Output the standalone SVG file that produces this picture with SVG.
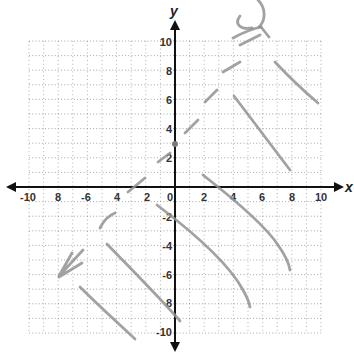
<svg xmlns="http://www.w3.org/2000/svg" width="354" height="354" viewBox="0 0 354 354">
<defs>
<style>
.gh{stroke:#222;stroke-width:0.9;stroke-dasharray:1 2.2;opacity:0.45;fill:none}
.gv{stroke:#222;stroke-width:0.9;stroke-dasharray:1 2.8;opacity:0.4;fill:none}
.ax{stroke:#111;stroke-width:2;fill:none}
.lb{font-family:"Liberation Sans",Arial,sans-serif;font-size:11px;font-weight:bold;fill:#333}
.al{font-family:"Liberation Sans",Arial,sans-serif;font-size:14px;font-style:italic;font-weight:bold;fill:#222}
.pen{stroke:#929292;stroke-width:2.8;stroke-linecap:round;stroke-linejoin:round;fill:none;opacity:0.85}
</style>
<marker id="ah" viewBox="0 0 10 10" refX="8" refY="5" markerWidth="5" markerHeight="5" orient="auto-start-reverse" markerUnits="strokeWidth">
<path d="M0,0 L10,5 L0,10 z" fill="#111"/>
</marker>
</defs>
<rect width="354" height="354" fill="#fff"/>
<g id="grid">
<path class="gh" d="M29,41.0H321M29,55.6H321M29,70.2H321M29,84.8H321M29,99.4H321M29,114.0H321M29,128.6H321M29,143.2H321M29,157.8H321M29,172.4H321M29,201.6H321M29,216.2H321M29,230.8H321M29,245.4H321M29,260.0H321M29,274.6H321M29,289.2H321M29,303.8H321M29,318.4H321M29,333.0H321"/>
<path class="gv" d="M29,41V333M43.6,41V333M58.2,41V333M72.8,41V333M87.4,41V333M102,41V333M116.6,41V333M131.2,41V333M145.8,41V333M160.4,41V333M189.6,41V333M204.2,41V333M218.8,41V333M233.4,41V333M248,41V333M262.6,41V333M277.2,41V333M291.8,41V333M306.4,41V333M321,41V333"/>
</g>
<g id="axes">
<line class="ax" x1="8" y1="187" x2="342" y2="187" marker-start="url(#ah)" marker-end="url(#ah)"/>
<line class="ax" x1="175" y1="22" x2="175" y2="350" marker-start="url(#ah)" marker-end="url(#ah)"/>
<text class="al" x="345" y="192">x</text>
<text class="al" x="170" y="16">y</text>
</g>
<g id="xlabels" class="lb" text-anchor="middle">
<text x="28" y="201">-10</text>
<text x="58" y="201">8</text>
<text x="86" y="201">-6</text>
<text x="117" y="201">4</text>
<text x="147" y="201">2</text>
<text x="170" y="201">0</text>
<text x="204" y="201">2</text>
<text x="233" y="201">4</text>
<text x="262" y="201">6</text>
<text x="292" y="201">8</text>
<text x="321" y="201">10</text>
</g>
<g id="ylabels" class="lb" text-anchor="end">
<text x="172" y="46">10</text>
<text x="172" y="75">8</text>
<text x="172" y="104">6</text>
<text x="172" y="133">4</text>
<text x="172" y="162">2</text>
<text x="172" y="221">-2</text>
<text x="172" y="250">-4</text>
<text x="172" y="279">-6</text>
<text x="172" y="307">8</text>
<text x="172" y="336">-10</text>
</g>
<g id="pencil">
<path class="pen" d="M258,0 C266,8 266,20 259,27"/>
<path class="pen" d="M240,16 C234,24 240,30 252,28"/>
<path class="pen" stroke-width="4" d="M233,38 C242,33 252,29 261,27"/>
<path class="pen" d="M261,27 L269,37"/>
<path class="pen" d="M240,45 L260,35"/>
<path class="pen" d="M223,72 L240,62"/>
<path class="pen" d="M205,102 L217,90"/>
<path class="pen" d="M275,62 C290,78 305,92 318,103"/>
<path class="pen" d="M234,96 C252,120 272,146 290,170"/>
<path class="pen" d="M185,133 L198,120"/>
<circle cx="175" cy="144" r="3" fill="#7a7a7a"/>
<path class="pen" d="M158,162 L170,153"/>
<path class="pen" d="M128,192 L145,178"/>
<path class="pen" d="M100,228 C104,220 110,215 115,213"/>
<path class="pen" d="M203,175 C235,200 265,225 278,245 C285,255 289,263 290,270"/>
<path class="pen" d="M157,205 C190,230 228,262 243,290 C247,297 249,302 250,307"/>
<path class="pen" d="M107,244 C130,268 160,298 180,321"/>
<path class="pen" d="M83,250 L59,276 L72,253 M59,277 L82,263"/>
<path class="pen" d="M80,287 C98,305 118,323 135,339"/>
</g>
</svg>
